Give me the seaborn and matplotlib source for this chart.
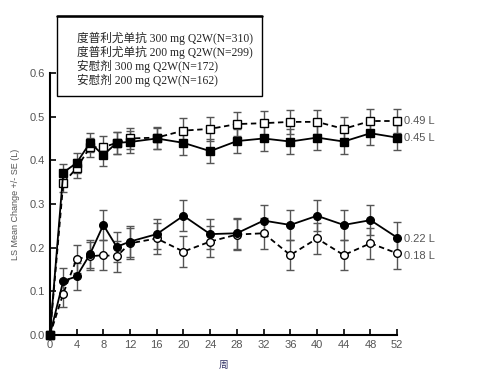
import matplotlib
matplotlib.use("Agg")
import matplotlib.pyplot as plt
import seaborn as sns
import pandas as pd
from matplotlib.patches import Rectangle

weeks = [0, 2, 4, 6, 8, 10, 12, 16, 20, 24, 28, 32, 36, 40, 44, 48, 52]
dup300 = [0.0, 0.372, 0.394, 0.44, 0.412, 0.44, 0.442, 0.45, 0.44, 0.421, 0.444, 0.45, 0.443, 0.452, 0.443, 0.462, 0.452]
dup300_se = [0.0, 0.02, 0.022, 0.022, 0.025, 0.025, 0.025, 0.025, 0.028, 0.028, 0.028, 0.028, 0.028, 0.028, 0.028, 0.028, 0.028]
dup200 = [0.0, 0.348, 0.382, 0.43, 0.43, 0.44, 0.45, 0.452, 0.468, 0.472, 0.483, 0.485, 0.488, 0.488, 0.472, 0.49, 0.49]
dup200_se = [0.0, 0.02, 0.022, 0.022, 0.025, 0.025, 0.025, 0.025, 0.028, 0.028, 0.028, 0.028, 0.028, 0.028, 0.028, 0.028, 0.028]
pla300 = [0.0, 0.124, 0.134, 0.185, 0.252, 0.202, 0.214, 0.231, 0.273, 0.231, 0.233, 0.262, 0.252, 0.273, 0.252, 0.263, 0.223]
pla300_se = [0.0, 0.03, 0.032, 0.032, 0.035, 0.035, 0.035, 0.035, 0.035, 0.035, 0.035, 0.035, 0.035, 0.035, 0.035, 0.035, 0.035]
pla200 = [0.0, 0.095, 0.174, 0.18, 0.183, 0.18, 0.21, 0.221, 0.191, 0.214, 0.23, 0.233, 0.183, 0.221, 0.183, 0.21, 0.187]
pla200_se = [0.0, 0.03, 0.032, 0.032, 0.035, 0.035, 0.035, 0.035, 0.035, 0.035, 0.035, 0.035, 0.035, 0.035, 0.035, 0.035, 0.035]

legend_labels = ["度普利尤单抗 300 mg Q2W(N=310)", "度普利尤单抗 200 mg Q2W(N=299)",
                 "安慰剂 300 mg Q2W(N=172)", "安慰剂 200 mg Q2W(N=162)"]
end_labels = ["0.49 L", "0.45 L", "0.22 L", "0.18 L"]
end_values = [0.49, 0.45, 0.22, 0.18]
xticks = [0, 4, 8, 12, 16, 20, 24, 28, 32, 36, 40, 44, 48, 52]
yticks = [0.0, 0.1, 0.2, 0.3, 0.4, 0.5, 0.6]

sns.set_theme(style="ticks")
plt.rcParams['font.family'] = ['Liberation Sans', 'Noto Sans CJK SC']

fig = plt.figure(figsize=(4.94, 3.82), dpi=100)
ax = fig.add_axes([0.101, 0.123, 0.703, 0.686])

series = [
    (dup200, dup200_se, 's', 'white', (0, (3, 2))),
    (dup300, dup300_se, 's', 'black', '-'),
    (pla200, pla200_se, 'o', 'white', (0, (3, 2))),
    (pla300, pla300_se, 'o', 'black', '-'),
]
gray = '#555555'
for vals, se, mk, fc, ls in series:
    df = pd.DataFrame({'week': weeks, 'val': vals})
    ax.errorbar(weeks, vals, yerr=se, fmt='none', ecolor=gray, elinewidth=1.0,
                capsize=3, capthick=1.0, zorder=2, clip_on=False)
    sns.lineplot(data=df, x='week', y='val', ax=ax, color='black', linestyle=ls,
                 linewidth=1.3, marker=mk, markersize=5.5, markerfacecolor=fc,
                 markeredgecolor='black', markeredgewidth=1.0, zorder=3, clip_on=False)

ax.set_xlim(0, 52)
ax.set_ylim(0, 0.6)
ax.set_xticks(xticks)
ax.set_yticks(yticks)
ax.set_yticklabels([f"{v:.1f}" for v in yticks])
ax.tick_params(axis='both', direction='in', length=4, width=1.2, colors='black',
               labelcolor=gray, labelsize=8)
for s in ['top', 'right']:
    ax.spines[s].set_visible(False)
for s in ['left', 'bottom']:
    ax.spines[s].set_linewidth(1.5)
    ax.spines[s].set_color('black')
ax.set_xlabel("周", fontsize=7, color='#333366', labelpad=7)
ax.set_ylabel("LS Mean Change +/- SE (L)", fontsize=6.5, color=gray, labelpad=7)

for lab, v in zip(end_labels, end_values):
    ax.text(53, v, lab, fontsize=8, color=gray, va='center', ha='left', clip_on=False)

rect = Rectangle((57 / 494, 1 - 96 / 382), (262 - 57) / 494, (96 - 16) / 382,
                 transform=fig.transFigure, facecolor='white', edgecolor='black',
                 linewidth=1.0, zorder=10)
fig.add_artist(rect)
fig.add_artist(plt.Line2D([57 / 494, 262 / 494], [1 - 16 / 382, 1 - 16 / 382],
                          transform=fig.transFigure, color='black', linewidth=1.8, zorder=11))
for i, lab in enumerate(legend_labels):
    fig.text(77 / 494, 1 - (38 + 14 * i) / 382, lab, fontsize=8.4, va='center', ha='left',
             family=['Liberation Serif', 'Noto Sans CJK SC'], zorder=12)

fig.savefig("out.png", dpi=100)
